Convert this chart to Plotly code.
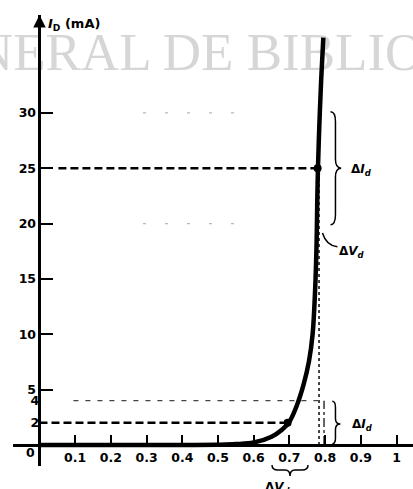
import plotly.graph_objects as go

# ---- data ----
vd = [0.0, 0.1, 0.2, 0.3, 0.4, 0.5, 0.55, 0.6, 0.65, 0.68, 0.70, 0.72, 0.74, 0.755,
      0.765, 0.772, 0.776, 0.778, 0.780, 0.784, 0.789, 0.795]
id_ma = [0.0, 0.0, 0.0, 0.0, 0.0, 0.03, 0.08, 0.22, 0.75, 1.4, 2.1, 3.5, 5.5, 7.6,
         10.0, 14.0, 18.0, 22.0, 25.0, 29.0, 33.0, 36.8]

q_v = [0.695, 0.779]          # operating points
q_i = [2, 25]

x_ticks = [0.1, 0.2, 0.3, 0.4, 0.5, 0.6, 0.7, 0.8, 0.9, 1.0]
x_labels = ["0.1", "0.2", "0.3", "0.4", "0.5", "0.6", "0.7", "0.8", "0.9", "1"]
y_ticks = [5, 10, 15, 20, 25, 30]
y_labels = ["5", "10", "15", "20", "25", "30"]
y_minor = [2, 4]
y_minor_labels = ["2", "4"]

W, H = 413, 489
X_RANGE = [-0.0742, 1.0462]
Y_RANGE = [-1.897, 38.84]

def pxx(p):
    return p / W

def pxy(p):
    return (H - p) / H

tickfont = dict(family="DejaVu Sans", size=12.5, color="black", weight="bold")
wm_font = dict(family="Liberation Serif", size=53, color="#d6d6d6")

fig = go.Figure()

# watermark (below everything): "N" sliver ends at the left edge, rest starts there
fig.add_trace(go.Scatter(x=[-0.0738], y=[35.07], mode="text", text=["N"],
                         textposition="middle left", textfont=wm_font,
                         cliponaxis=False, showlegend=False, hoverinfo="skip"))
fig.add_trace(go.Scatter(x=[-0.0738], y=[35.07], mode="text", text=["ERAL DE BIBLIO"],
                         textposition="middle right", textfont=wm_font,
                         cliponaxis=False, showlegend=False, hoverinfo="skip"))

# faint dashed remnants at 20 and 30 mA
for lvl in [20, 30]:
    fig.add_trace(go.Scatter(x=[0.29, 0.58], y=[lvl, lvl], mode="lines",
                             line=dict(color="#b8b8b8", width=1.1, dash="3px,19px"),
                             showlegend=False, hoverinfo="skip"))
# thin dashed line at 4 mA
fig.add_trace(go.Scatter(x=[0.095, 0.78], y=[4, 4], mode="lines",
                         line=dict(color="#444444", width=1.2, dash="5px,7px"),
                         showlegend=False, hoverinfo="skip"))
# dotted verticals near 0.78 V
fig.add_trace(go.Scatter(x=[0.783, 0.783], y=[0, 28], mode="lines",
                         line=dict(color="#333333", width=1.8, dash="dot"),
                         showlegend=False, hoverinfo="skip"))
fig.add_trace(go.Scatter(x=[0.797, 0.797], y=[0, 4], mode="lines",
                         line=dict(color="#333333", width=1.5, dash="dashdot"),
                         showlegend=False, hoverinfo="skip"))
# dashed projection lines
fig.add_trace(go.Scatter(x=[0.053, q_v[1]], y=[q_i[1], q_i[1]], mode="lines",
                         line=dict(color="black", width=2.5, dash="8px,4px"),
                         showlegend=False, hoverinfo="skip"))
fig.add_trace(go.Scatter(x=[0.0, q_v[0]], y=[q_i[0], q_i[0]], mode="lines",
                         line=dict(color="black", width=2.5, dash="8px,4px"),
                         showlegend=False, hoverinfo="skip"))
# diode curve
fig.add_trace(go.Scatter(x=vd, y=id_ma, mode="lines", line=dict(color="black", width=4.5),
                         line_shape="spline", showlegend=False, hoverinfo="skip"))
# operating points
fig.add_trace(go.Scatter(x=q_v, y=q_i, mode="markers",
                         marker=dict(color="black", size=8),
                         showlegend=False, hoverinfo="skip"))
# dummy trace for secondary label axis
fig.add_trace(go.Scatter(x=[None], y=[None], yaxis="y2", showlegend=False, hoverinfo="skip"))

shapes = [
    # upper brace
    dict(type="path", xref="x", yref="y",
         path="M 0.815,30.1 Q 0.829,30.1 0.829,29.2 L 0.829,25.8 Q 0.829,25 0.845,25 "
              "Q 0.829,25 0.829,24.2 L 0.829,20.8 Q 0.829,19.9 0.815,19.9",
         line=dict(color="black", width=1.5)),
    # lower brace
    dict(type="path", xref="x", yref="y",
         path="M 0.82,3.95 Q 0.829,3.95 0.829,3.4 L 0.829,2.4 Q 0.829,1.9 0.843,1.9 "
              "Q 0.829,1.9 0.829,1.4 L 0.829,0.6 Q 0.829,0.1 0.82,0.1",
         line=dict(color="black", width=1.5)),
    # leader for middle dV label
    dict(type="path", xref="x", yref="y",
         path="M 0.7926,19.15 Q 0.8037,18.0 0.8345,17.9",
         line=dict(color="black", width=1.5)),
    # bottom brace (below x axis)
    dict(type="path", xref="paper", yref="paper",
         path=f"M {pxx(272)},{pxy(465)} Q {pxx(272)},{pxy(470)} {pxx(278)},{pxy(470)} "
              f"L {pxx(285)},{pxy(470)} Q {pxx(290)},{pxy(470)} {pxx(290)},{pxy(476)} "
              f"Q {pxx(290)},{pxy(470)} {pxx(295)},{pxy(470)} L {pxx(302)},{pxy(470)} "
              f"Q {pxx(308)},{pxy(470)} {pxx(308)},{pxy(465)}",
         line=dict(color="black", width=1.5)),
]

lab_font = dict(family="DejaVu Sans", size=12, color="black", weight="bold")
annotations = [
    dict(x=0, y=Y_RANGE[1], xref="x", yref="y", ax=0, ay=22, axref="pixel", ayref="pixel",
         text="", showarrow=True, arrowhead=2, arrowsize=1, arrowwidth=2.5, arrowcolor="black"),
    dict(x=pxx(46), y=pxy(24), xref="paper", yref="paper", xanchor="left", yanchor="middle",
         text="<i>I</i><sub>D</sub> (mA)", showarrow=False,
         font=dict(family="DejaVu Sans", size=13, color="black", weight="bold")),
    dict(x=-0.026, y=-0.72, xref="x", yref="y", text="0", showarrow=False, font=tickfont),
    dict(x=0.902, y=24.84, xref="x", yref="y", text="Δ<i>I<sub>d</sub></i>",
         showarrow=False, font=lab_font),
    dict(x=0.905, y=1.8, xref="x", yref="y", text="Δ<i>I<sub>d</sub></i>",
         showarrow=False, font=lab_font),
    dict(x=0.876, y=17.43, xref="x", yref="y", text="Δ<i>V<sub>d</sub></i>",
         showarrow=False, font=lab_font),
    dict(x=pxx(293), y=pxy(478), xref="paper", yref="paper", yanchor="top",
         text="Δ<i>V<sub>d</sub></i>", showarrow=False, font=lab_font),
]

fig.update_layout(
    width=W, height=H,
    margin=dict(l=0, r=0, t=0, b=0, pad=0),
    paper_bgcolor="white", plot_bgcolor="white",
    showlegend=False,
    xaxis=dict(domain=[13 / W, 1], range=X_RANGE, anchor="free", position=pxy(445),
               automargin=False,
               showline=True, linewidth=2.5, linecolor="black",
               ticks="inside", ticklen=9, tickwidth=2, tickcolor="black",
               tickvals=x_ticks, ticktext=x_labels, tickfont=tickfont,
               showgrid=False, zeroline=False, fixedrange=True),
    yaxis=dict(domain=[pxy(466), pxy(15)], range=Y_RANGE, anchor="free", position=39.3 / W,
               automargin=False,
               showline=True, linewidth=2.5, linecolor="black",
               ticks="inside", ticklen=12, tickwidth=2, tickcolor="black",
               tickvals=y_ticks, ticktext=y_labels, tickfont=tickfont,
               showgrid=False, zeroline=False, fixedrange=True),
    yaxis2=dict(overlaying="y", range=Y_RANGE, anchor="free", position=39.3 / W,
                automargin=False,
                showline=False, ticks="", tickvals=y_minor, ticktext=y_minor_labels,
                tickfont=tickfont, showgrid=False, zeroline=False, fixedrange=True),
    shapes=shapes,
    annotations=annotations,
)

fig.write_html("out.html", config={"displayModeBar": False},
               post_script="document.body.style.margin='0';document.body.style.padding='0';"
                           "document.body.style.overflow='hidden';")
